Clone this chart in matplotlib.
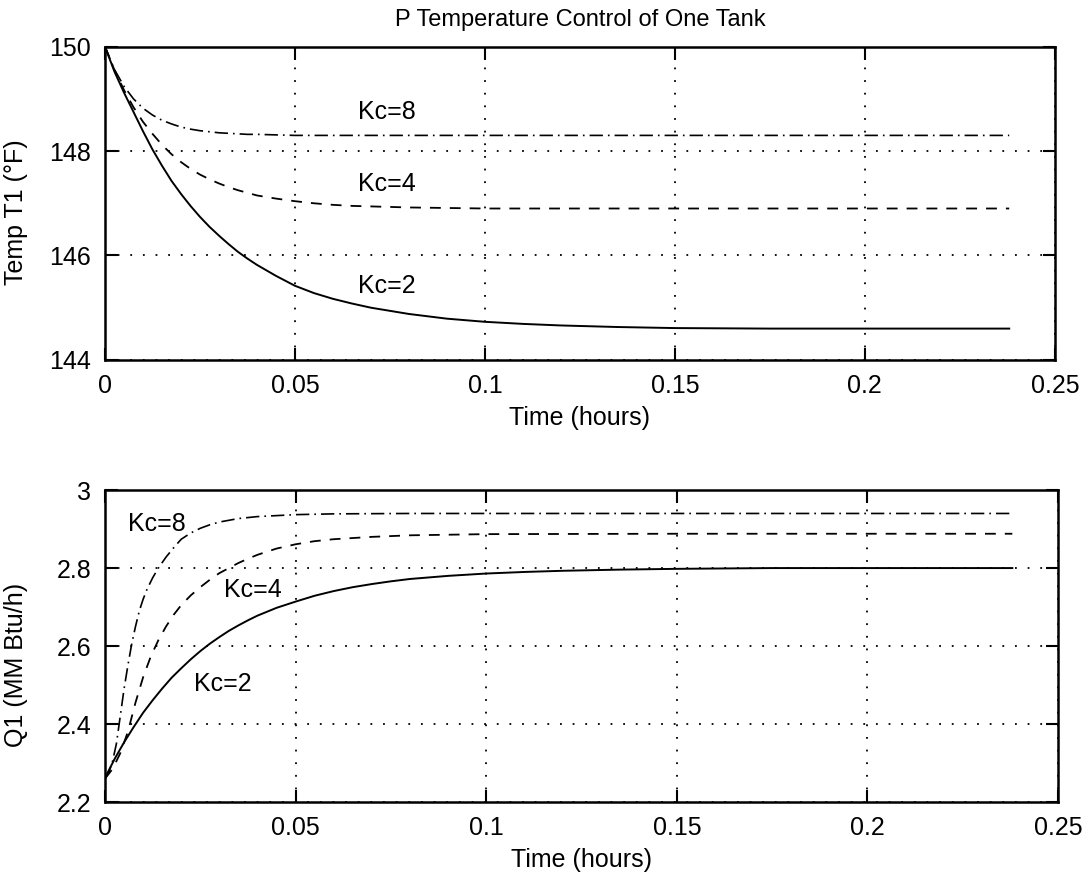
import matplotlib
matplotlib.use("Agg")
import matplotlib.pyplot as plt
from matplotlib.ticker import FormatStrFormatter

plt.rcParams['font.family'] = ['Liberation Sans', 'DejaVu Sans']

# tank temperature T1 (deg F) vs time (hours)
t_T = [0, 0.0025, 0.005, 0.0075, 0.01, 0.0125, 0.015, 0.0175, 0.02, 0.0225, 0.025,
       0.0275, 0.03, 0.0325, 0.035, 0.0375, 0.04, 0.045, 0.05, 0.055, 0.06, 0.065,
       0.07, 0.075, 0.08, 0.09, 0.1, 0.11, 0.12, 0.135, 0.15, 0.175, 0.2, 0.238]
T_kc2 = [150, 149.52, 149.12, 148.75, 148.38, 148.03, 147.72, 147.43, 147.18, 146.95,
         146.74, 146.55, 146.38, 146.22, 146.07, 145.94, 145.82, 145.61, 145.42, 145.28,
         145.17, 145.08, 145.0, 144.94, 144.88, 144.79, 144.73, 144.69, 144.66, 144.63,
         144.61, 144.6, 144.6, 144.6]
T_kc4 = [150, 149.55, 149.17, 148.84, 148.56, 148.33, 148.12, 147.94, 147.79, 147.66,
         147.55, 147.46, 147.38, 147.31, 147.25, 147.2, 147.15, 147.09, 147.04, 147.0,
         146.97, 146.95, 146.94, 146.93, 146.92, 146.91, 146.9, 146.9, 146.9, 146.9,
         146.9, 146.9, 146.9, 146.9]
T_kc8 = [150, 149.56, 149.24, 149.0, 148.82, 148.69, 148.59, 148.52, 148.46, 148.42,
         148.39, 148.37, 148.35, 148.34, 148.33, 148.32, 148.32, 148.31, 148.3, 148.3,
         148.3, 148.3, 148.3, 148.3, 148.3, 148.3, 148.3, 148.3, 148.3, 148.3,
         148.3, 148.3, 148.3, 148.3]

# heater duty Q1 (MM Btu/h)
t_Q2 = [0, 0.0025, 0.005, 0.0075, 0.01, 0.0125, 0.015, 0.0175, 0.02, 0.0225, 0.025,
        0.0275, 0.03, 0.0325, 0.035, 0.0375, 0.04, 0.045, 0.05, 0.055, 0.06, 0.065,
        0.07, 0.075, 0.08, 0.09, 0.1, 0.11, 0.12, 0.135, 0.15, 0.175, 0.2, 0.238]
Q_kc2 = [2.262, 2.31, 2.353, 2.392, 2.429, 2.461, 2.491, 2.519, 2.543, 2.566, 2.587,
         2.606, 2.623, 2.639, 2.653, 2.666, 2.678, 2.698, 2.714, 2.729, 2.741, 2.751,
         2.759, 2.766, 2.772, 2.78, 2.786, 2.79, 2.793, 2.796, 2.798, 2.8, 2.8, 2.8]

t_Q4 = [0, 0.002, 0.004, 0.006, 0.008, 0.01, 0.012, 0.014, 0.016, 0.018, 0.02,
        0.0225, 0.025, 0.0275, 0.03, 0.0325, 0.035, 0.0375, 0.04, 0.045, 0.05, 0.055,
        0.06, 0.07, 0.08, 0.1, 0.15, 0.2, 0.238]
Q_kc4 = [2.26, 2.285, 2.325, 2.38, 2.455, 2.52, 2.573, 2.615, 2.65, 2.68, 2.705,
         2.73, 2.751, 2.77, 2.787, 2.80, 2.813, 2.824, 2.834, 2.85, 2.861, 2.869,
         2.874, 2.88, 2.884, 2.887, 2.888, 2.888, 2.888]

t_Q8 = [0, 0.001, 0.002, 0.003, 0.004, 0.005, 0.006, 0.007, 0.008, 0.009, 0.01,
        0.011, 0.0125, 0.014, 0.016, 0.018, 0.02, 0.0225, 0.025, 0.0275, 0.03, 0.035,
        0.04, 0.05, 0.06, 0.08, 0.1, 0.15, 0.2, 0.238]
Q_kc8 = [2.26, 2.275, 2.305, 2.35, 2.42, 2.49, 2.55, 2.605, 2.65, 2.69, 2.72,
         2.745, 2.775, 2.80, 2.828, 2.852, 2.874, 2.89, 2.902, 2.911, 2.918, 2.927,
         2.932, 2.937, 2.939, 2.94, 2.94, 2.94, 2.94, 2.94]

x_ticks = [0, 0.05, 0.1, 0.15, 0.2, 0.25]

FS = 18
dash_kc4 = (0, (6, 5))
dash_kc8 = (0, (8, 3, 1, 3))
grid_style = (0, (1, 6))


def style_axes(ax):
    ax.set_xlim(0, 0.25)
    ax.set_xticks(x_ticks)
    ax.xaxis.set_major_formatter(FormatStrFormatter('%g'))
    ax.yaxis.set_major_formatter(FormatStrFormatter('%g'))
    ax.tick_params(direction='in', length=9, width=1.5, top=True, right=True,
                   labelsize=FS, pad=10)
    for s in ax.spines.values():
        s.set_linewidth(1.8)
    ax.grid(True, color='black', linestyle=grid_style, linewidth=1.3)
    ax.set_xlabel("Time (hours)", fontsize=FS, labelpad=6)


fig = plt.figure(figsize=(10.88, 8.8), dpi=100)
ax1 = fig.add_axes([0.0965, 0.591, 0.873, 0.356])
ax2 = fig.add_axes([0.0965, 0.0886, 0.876, 0.3545])

# top: temperature
ax1.plot(t_T, T_kc2, color='black', lw=1.4)
ax1.plot(t_T, T_kc4, color='black', lw=1.3, linestyle=dash_kc4)
ax1.plot(t_T, T_kc8, color='black', lw=1.2, linestyle=dash_kc8)
ax1.set_ylim(144, 150)
ax1.set_yticks([144, 146, 148, 150])
style_axes(ax1)
ax1.set_ylabel("Temp T1 (°F)", fontsize=FS)
ax1.yaxis.set_label_coords(-0.081, 0.47)
ax1.set_title("P Temperature Control of One Tank", fontsize=17, pad=15)
ax1.text(0.0666, 148.75, "Kc=8", fontsize=FS, va='center')
ax1.text(0.0666, 147.37, "Kc=4", fontsize=FS, va='center')
ax1.text(0.0666, 145.41, "Kc=2", fontsize=FS, va='center')

# bottom: heater duty
ax2.plot(t_Q2, Q_kc2, color='black', lw=1.4)
ax2.plot(t_Q4, Q_kc4, color='black', lw=1.3, linestyle=dash_kc4)
ax2.plot(t_Q8, Q_kc8, color='black', lw=1.2, linestyle=dash_kc8)
ax2.set_ylim(2.2, 3.0)
ax2.set_yticks([2.2, 2.4, 2.6, 2.8, 3.0])
style_axes(ax2)
ax2.set_ylabel("Q1 (MM Btu/h)", fontsize=FS)
ax2.yaxis.set_label_coords(-0.081, 0.44)
ax2.text(0.006, 2.914, "Kc=8", fontsize=FS, va='center')
ax2.text(0.0312, 2.744, "Kc=4", fontsize=FS, va='center')
ax2.text(0.0234, 2.503, "Kc=2", fontsize=FS, va='center')

fig.savefig("out.png", dpi=100, facecolor='white')
